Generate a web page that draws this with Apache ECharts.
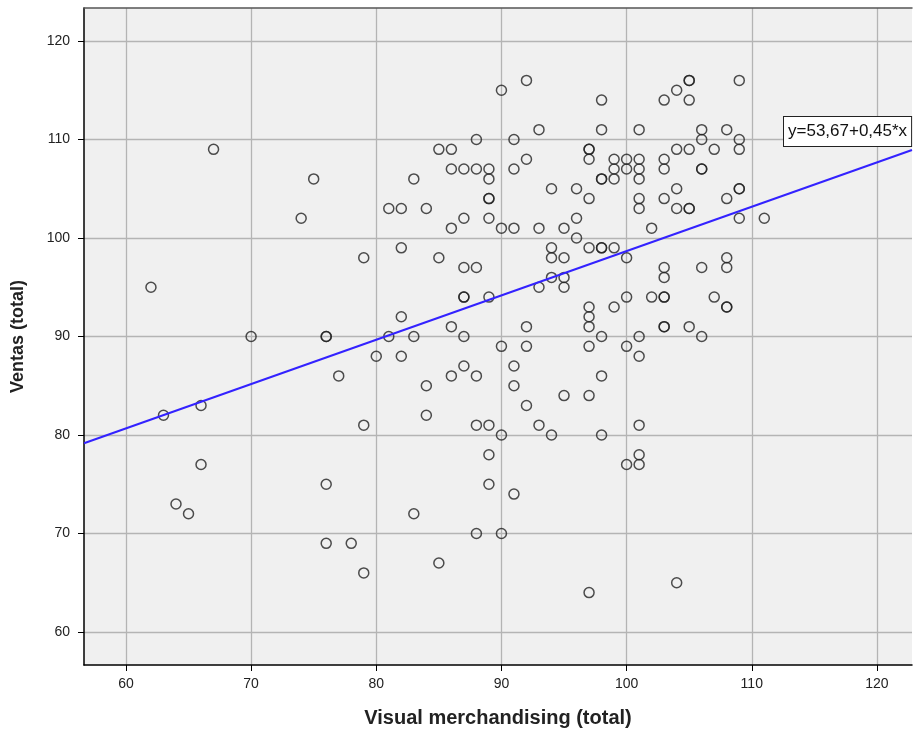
<!DOCTYPE html>
<html>
<head>
<meta charset="utf-8">
<script src="https://cdn.jsdelivr.net/npm/echarts@6/dist/echarts.min.js"></script>
<style>
html,body{margin:0;padding:0;background:#fff;}
#chart{width:914px;height:735px;}
</style>
</head>
<body>
<div id="chart"></div>
<script>
// Visual merchandising (total) — x values
const visual = [
  92,90,98,93,98,101,91,88,103,104,105,105,105,109,106,106,108,109,
  67,85,86,97,97,104,105,107,109,86,87,88,89,89,89,89,83,75,74,81,82,84,86,87,89,90,
  92,91,97,99,99,100,100,101,101,101,103,103,106,106,98,98,99,94,96,97,101,101,103,104,104,105,105,
  96,91,93,95,102,109,109,108,109,111,96,
  62,70,82,79,85,87,88,87,87,89,82,76,76,81,83,86,87,
  94,94,95,97,98,98,99,100,94,95,93,95,103,103,106,100,102,103,103,99,97,97,97,92,103,103,105,106,98,101,108,108,107,108,108,
  63,66,90,80,82,77,87,86,88,84,84,79,88,89,90,92,97,100,101,91,91,98,95,97,92,93,101,94,98,
  66,64,65,76,76,78,79,83,85,88,90,89,89,91,100,101,101,97,104
];
// Ventas (total) — y values
const ventas = [
  116,115,114,111,111,111,110,110,114,115,116,116,114,116,111,110,111,110,
  109,109,109,109,109,109,109,109,109,107,107,107,107,106,104,104,106,106,102,103,103,103,101,102,102,101,
  108,107,108,108,107,108,107,108,107,106,108,107,107,107,106,106,106,105,105,104,104,103,104,105,103,103,103,
  102,101,101,101,101,105,105,104,102,102,100,
  95,90,99,98,98,97,97,94,94,94,92,90,90,90,90,91,90,
  99,98,98,99,99,99,99,98,96,96,95,95,97,96,97,94,94,94,94,93,93,92,91,91,91,91,91,90,90,90,98,97,94,93,93,
  82,83,89,88,88,86,87,86,86,85,82,81,81,81,80,89,89,89,88,87,85,86,84,84,83,81,81,80,80,
  77,73,72,75,69,69,66,72,67,70,70,78,75,74,77,77,78,64,65
];
const xTicks = [60, 70, 80, 90, 100, 110, 120];
const yTicks = [60, 70, 80, 90, 100, 110, 120];
const xRange = [56.65, 122.8];
const yRange = [56.65, 123.35];
// Fit line: y = a + b*x
const fitIntercept = 53.67;
const fitSlope = 0.45;
const fitLabel = 'y=53,67+0,45*x';

const points = visual.map((x, i) => [x, ventas[i]]);
const fitLine = xRange.map(x => [x, fitIntercept + fitSlope * x]);

const chart = echarts.init(document.getElementById('chart'));
const FONT = '"Liberation Sans", Arial, sans-serif';
const gridLine = { show: true, lineStyle: { color: '#b4b4b4', width: 1.3 } };

chart.setOption({
  animation: false,
  backgroundColor: '#ffffff',
  grid: { left: 84, right: 2, top: 8, bottom: 70, show: true, backgroundColor: '#f0f0f0', borderWidth: 0 },
  xAxis: [{
    type: 'value', min: xRange[0], max: xRange[1],
    name: 'Visual merchandising (total)', nameLocation: 'middle', nameGap: 43,
    nameTextStyle: { fontFamily: FONT, fontSize: 20, fontWeight: 'bold', color: '#222' },
    axisLine: { show: true, lineStyle: { color: '#000', width: 1.5 } },
    axisTick: { show: true, length: 6, customValues: xTicks, lineStyle: { color: '#000' } },
    axisLabel: { customValues: xTicks, margin: 12, fontFamily: FONT, fontSize: 14, color: '#222' },
    splitLine: gridLine
  }, {
    type: 'value', position: 'top', min: xRange[0], max: xRange[1],
    axisLine: { show: true, lineStyle: { color: '#555', width: 1.5 } },
    axisTick: { show: false }, axisLabel: { show: false }, splitLine: { show: false }
  }],
  yAxis: {
    type: 'value', min: yRange[0], max: yRange[1],
    name: 'Ventas (total)', nameLocation: 'middle', nameGap: 57, nameRotate: 90,
    nameTextStyle: { fontFamily: FONT, fontSize: 18, fontWeight: 'bold', color: '#222' },
    axisLine: { show: true, lineStyle: { color: '#000', width: 1.5 } },
    axisTick: { show: true, length: 6, customValues: yTicks, lineStyle: { color: '#000' } },
    axisLabel: { customValues: yTicks, margin: 14, fontFamily: FONT, fontSize: 14, color: '#222' },
    splitLine: gridLine
  },
  series: [{
    type: 'scatter',
    data: points,
    symbol: 'circle',
    symbolSize: 10,
    itemStyle: { color: 'rgba(0,0,0,0)', borderColor: '#222', borderWidth: 1.5 },
    z: 2
  }, {
    type: 'line',
    data: fitLine,
    showSymbol: false,
    clip: true,
    lineStyle: { color: '#3322ff', width: 2 },
    z: 3
  }],
  graphic: [{
    type: 'text',
    left: 783, top: 116, z: 10,
    style: {
      text: fitLabel, font: '17px ' + FONT, fill: '#111',
      backgroundColor: '#ffffff', borderColor: '#222', borderWidth: 1,
      padding: [6, 4, 6, 4]
    }
  }]
});
</script>
</body>
</html>
